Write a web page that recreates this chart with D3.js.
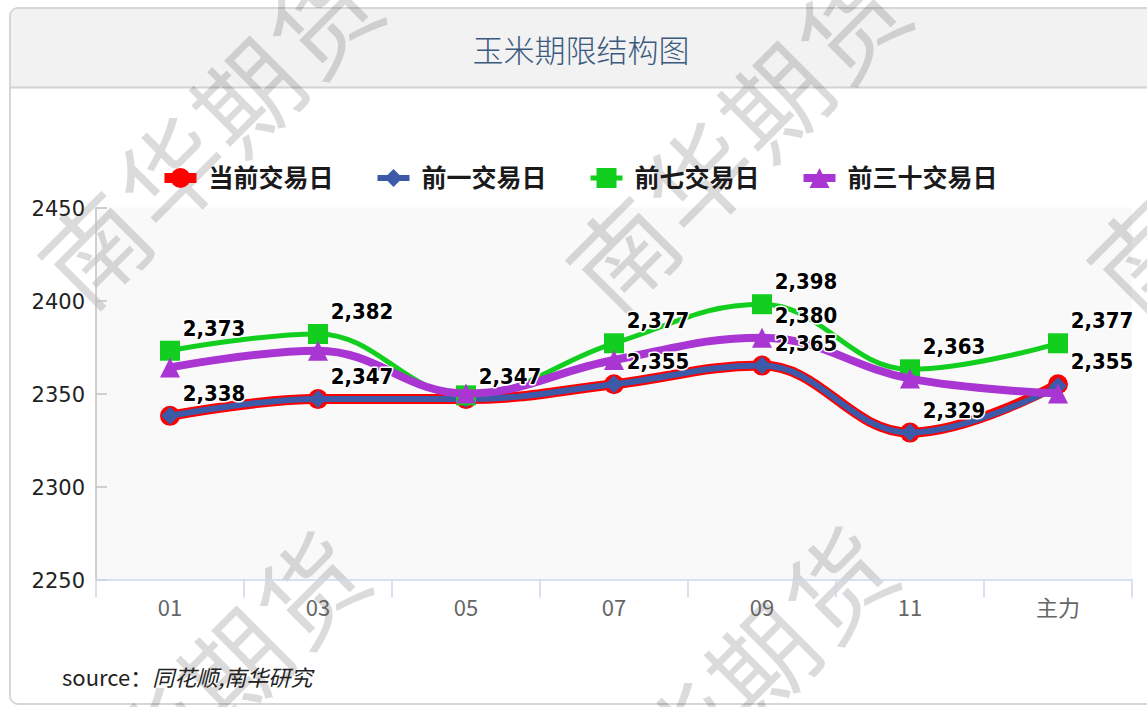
<!DOCTYPE html>
<html>
<head>
<meta charset="utf-8">
<script src="https://cdn.jsdelivr.net/npm/d3@7"></script>
<style>
  body { margin: 0; background: #fff; }
  svg { display: block; }
</style>
</head>
<body>
<script>
// data
const categories = ['01', '03', '05', '07', '09', '11', '主力']
const seriesNames = ['当前交易日', '前一交易日', '前七交易日', '前三十交易日']
const current = [2338, 2347, 2347, 2355, 2365, 2329, 2355]
const prev1 = [2338, 2347, 2347, 2355, 2365, 2329, 2354]
const prev7 = [2373, 2382, 2349, 2377, 2398, 2363, 2377]
const prev30 = [2364, 2373, 2350, 2368, 2380, 2358, 2350]
const yTicks = [2250, 2300, 2350, 2400, 2450]
// points whose value label is visible (the others are hidden by overlap)
const labelled = [[0, 1, 2, 3, 4, 5, 6], [], [0, 1, 3, 4, 5, 6], [4]]
const title = '玉米期限结构图'
const sourceLabel = 'source：'
const sourceText = '同花顺,南华研究'
const watermark = '南华期货'

const WIDTH = 1147
const HEIGHT = 707
const PLOT_LEFT = 96
const PLOT_RIGHT = 1132
const PLOT_TOP = 207.5
const PLOT_BOTTOM = 579.5

// styles per series
const styles = [
  { color: '#ff0000', width: 10, marker: 'circle', r: 10 },
  { color: '#3d5aa8', width: 6, marker: 'diamond', r: 9 },
  { color: '#12cf1f', width: 5, marker: 'square', r: 10 },
  { color: '#a936d3', width: 8, marker: 'triangle', r: 10 }
]
const allSeries = [current, prev1, prev7, prev30]

const svg = d3.select('body').append('svg').attr('width', WIDTH).attr('height', HEIGHT)

// card + header
svg.append('rect')
  .attr('x', 10).attr('y', 8).attr('width', 1160).attr('height', 696).attr('rx', 8)
  .attr('fill', '#fff').attr('stroke', '#d6d6d6').attr('stroke-width', 2)
svg.append('path')
  .attr('d', 'M11,87 L11,17 Q11,9 19,9 L1170,9 L1170,87 Z')
  .attr('fill', '#f2f2f2')
svg.append('line')
  .attr('x1', 11).attr('x2', 1170).attr('y1', 87.5).attr('y2', 87.5)
  .attr('stroke', '#d2d2d2').attr('stroke-width', 2)

svg.append('text')
  .attr('x', 581).attr('y', 62)
  .attr('text-anchor', 'middle')
  .attr('font-family', '"Noto Sans CJK SC", sans-serif')
  .attr('font-size', 31)
  .attr('font-weight', 300)
  .attr('fill', '#3b5a80')
  .text(title)

// scales
const x = d3.scaleBand().domain(categories).range([PLOT_LEFT, PLOT_RIGHT])
const cx = c => x(c) + x.bandwidth() / 2
const y = d3.scaleLinear().domain([yTicks[0], yTicks[yTicks.length - 1]]).range([PLOT_BOTTOM, PLOT_TOP])

// plot background
svg.append('rect')
  .attr('x', PLOT_LEFT).attr('y', PLOT_TOP)
  .attr('width', PLOT_RIGHT - PLOT_LEFT).attr('height', PLOT_BOTTOM - PLOT_TOP)
  .attr('fill', '#f9f9f9')

// watermark
const wm = svg.append('g')
const wmPos = [[213, 135], [741, 140], [1262, 140], [200, 705], [728, 700]]
wm.selectAll('text')
  .data(wmPos)
  .enter()
  .append('text')
  .attr('transform', d => `translate(${d[0]},${d[1]}) rotate(-45)`)
  .attr('text-anchor', 'middle')
  .attr('dy', '0.36em')
  .attr('font-family', '"Noto Sans CJK SC", sans-serif')
  .attr('font-size', 104)
  .attr('letter-spacing', 4)
  .attr('fill', '#000')
  .attr('fill-opacity', 0.14)
  .text(watermark)

// y axis
const axisY = d3.axisLeft(y).tickValues(yTicks).tickFormat(d3.format('d')).tickSize(-11).tickPadding(11)
const gy = svg.append('g').attr('transform', `translate(${PLOT_LEFT}, 0)`).call(axisY)
gy.select('.domain').remove()
gy.selectAll('.tick line').attr('stroke', '#c0c0c0').attr('stroke-width', 1.5)
gy.selectAll('.tick text')
  .attr('font-family', '"DejaVu Sans", sans-serif')
  .attr('font-size', 21)
  .attr('fill', '#222')
  .attr('dy', '0.36em')
gy.append('line')
  .attr('x1', 0).attr('x2', 0).attr('y1', PLOT_TOP).attr('y2', PLOT_BOTTOM)
  .attr('stroke', '#c0c0c0').attr('stroke-width', 1.5)

// x axis
const axisX = d3.axisBottom(x).tickSize(0).tickPadding(21)
const gx = svg.append('g').attr('transform', `translate(0, ${PLOT_BOTTOM})`).call(axisX)
gx.select('.domain').attr('stroke', '#ccd6eb').attr('stroke-width', 1.5)
gx.selectAll('.tick text')
  .attr('font-family', '"Liberation Sans Narrow", "Noto Sans CJK SC", sans-serif')
  .attr('font-size', 22)
  .attr('fill', '#666')
// tick marks on the band edges
const edges = categories.map(c => x(c)).concat([x.range()[1]])
gx.selectAll('line.edge')
  .data(edges)
  .enter()
  .append('line')
  .attr('class', 'edge')
  .attr('x1', d => d).attr('x2', d => d)
  .attr('y1', 0).attr('y2', 18)
  .attr('stroke', '#ccd6eb').attr('stroke-width', 1.5)

// Highcharts-like spline
function splinePath(pts) {
  const path = d3.path()
  const sm = 1.5, den = 2.5
  const conts = pts.map(() => null)
  pts.forEach((p, i) => {
    if (i === 0) { path.moveTo(p[0], p[1]); return }
    const last = pts[i - 1], next = pts[i + 1]
    let left = null
    if (next) {
      let lx = (sm * p[0] + last[0]) / den, ly = (sm * p[1] + last[1]) / den
      let rx = (sm * p[0] + next[0]) / den, ry = (sm * p[1] + next[1]) / den
      if (rx !== lx) {
        const corr = ((ry - ly) * (rx - p[0])) / (rx - lx) + p[1] - ry
        ly += corr
        ry += corr
      }
      if (ly > last[1] && ly > p[1]) { ly = Math.max(last[1], p[1]); ry = 2 * p[1] - ly }
      else if (ly < last[1] && ly < p[1]) { ly = Math.min(last[1], p[1]); ry = 2 * p[1] - ly }
      if (ry > next[1] && ry > p[1]) { ry = Math.max(next[1], p[1]); ly = 2 * p[1] - ry }
      else if (ry < next[1] && ry < p[1]) { ry = Math.min(next[1], p[1]); ly = 2 * p[1] - ry }
      left = [lx, ly]
      conts[i] = [rx, ry]
    }
    const c1 = conts[i - 1] || last
    const c2 = left || p
    path.bezierCurveTo(c1[0], c1[1], c2[0], c2[1], p[0], p[1])
  })
  return path.toString()
}

function markerPath(type, px, py, r) {
  const s = r * 2, x0 = px - r, y0 = py - r
  if (type === 'circle') {
    const p = d3.path(); p.arc(px, py, r, 0, Math.PI * 2); return p.toString()
  }
  if (type === 'square') return `M${x0},${y0}h${s}v${s}h${-s}Z`
  if (type === 'diamond') return `M${px},${y0}L${x0 + s},${py}L${px},${y0 + s}L${x0},${py}Z`
  return `M${px},${y0}L${x0 + s},${y0 + s}L${x0},${y0 + s}Z`
}

const plot = svg.append('g')
allSeries.forEach((vals, si) => {
  const st = styles[si]
  const pts = vals.map((v, i) => [cx(categories[i]), y(v)])
  plot.append('path')
    .attr('d', splinePath(pts))
    .attr('fill', 'none')
    .attr('stroke', st.color)
    .attr('stroke-width', st.width)
    .attr('stroke-linecap', 'round')
    .attr('stroke-linejoin', 'round')
  plot.append('g').selectAll('path')
    .data(vals)
    .enter()
    .append('path')
    .attr('d', (d, i) => markerPath(st.marker, cx(categories[i]), y(d), st.r))
    .attr('fill', st.color)
})

// value labels
const fmt = d3.format(',')
const labels = svg.append('g')
allSeries.forEach((vals, si) => {
  labels.selectAll(null)
    .data(labelled[si])
    .enter()
    .append('text')
    .attr('x', i => cx(categories[i]) + 44)
    .attr('y', i => y(vals[i]) - 15)
    .attr('text-anchor', 'middle')
    .attr('font-family', '"DejaVu Sans Condensed", "Open Sans", sans-serif')
    .attr('font-stretch', 'condensed')
    .attr('font-weight', 'bold')
    .attr('font-size', 22)
    .attr('fill', '#000')
    .attr('stroke', '#fff')
    .attr('stroke-width', 3)
    .attr('stroke-linejoin', 'round')
    .attr('paint-order', 'stroke')
    .text(i => fmt(vals[i]))
})

// legend
const legend = svg.append('g')
const SYM_W = 32, SYM_PAD = 12, ITEM_GAP = 44, LEG_Y = 178
const items = legend.selectAll('g')
  .data(seriesNames)
  .enter()
  .append('g')
items.append('line')
  .attr('x1', 0).attr('x2', SYM_W).attr('y1', LEG_Y).attr('y2', LEG_Y)
  .attr('stroke', (d, i) => styles[i].color)
  .attr('stroke-width', (d, i) => styles[i].width)
items.append('path')
  .attr('d', (d, i) => markerPath(styles[i].marker, SYM_W / 2, LEG_Y, styles[i].r))
  .attr('fill', (d, i) => styles[i].color)
items.append('text')
  .attr('x', SYM_W + SYM_PAD)
  .attr('y', LEG_Y + 9)
  .attr('font-family', '"Noto Sans CJK SC", sans-serif')
  .attr('font-size', 25)
  .attr('font-weight', 'bold')
  .attr('fill', '#1a1a1a')
  .text(d => d)
let offs = 0
const offsets = []
items.each(function () {
  offsets.push(offs)
  offs += SYM_W + SYM_PAD + d3.select(this).select('text').node().getComputedTextLength() + ITEM_GAP
})
const legW = offs - ITEM_GAP
const legX = 581 - legW / 2
items.attr('transform', (d, i) => `translate(${legX + offsets[i]}, 0)`)

// source
const src = svg.append('text')
  .attr('x', 62).attr('y', 686)
  .attr('font-family', '"Noto Sans CJK SC", sans-serif')
  .attr('font-size', 22)
  .attr('fill', '#222')
src.append('tspan').text(sourceLabel)
src.append('tspan').attr('font-style', 'italic').text(sourceText)
</script>
</body>
</html>
